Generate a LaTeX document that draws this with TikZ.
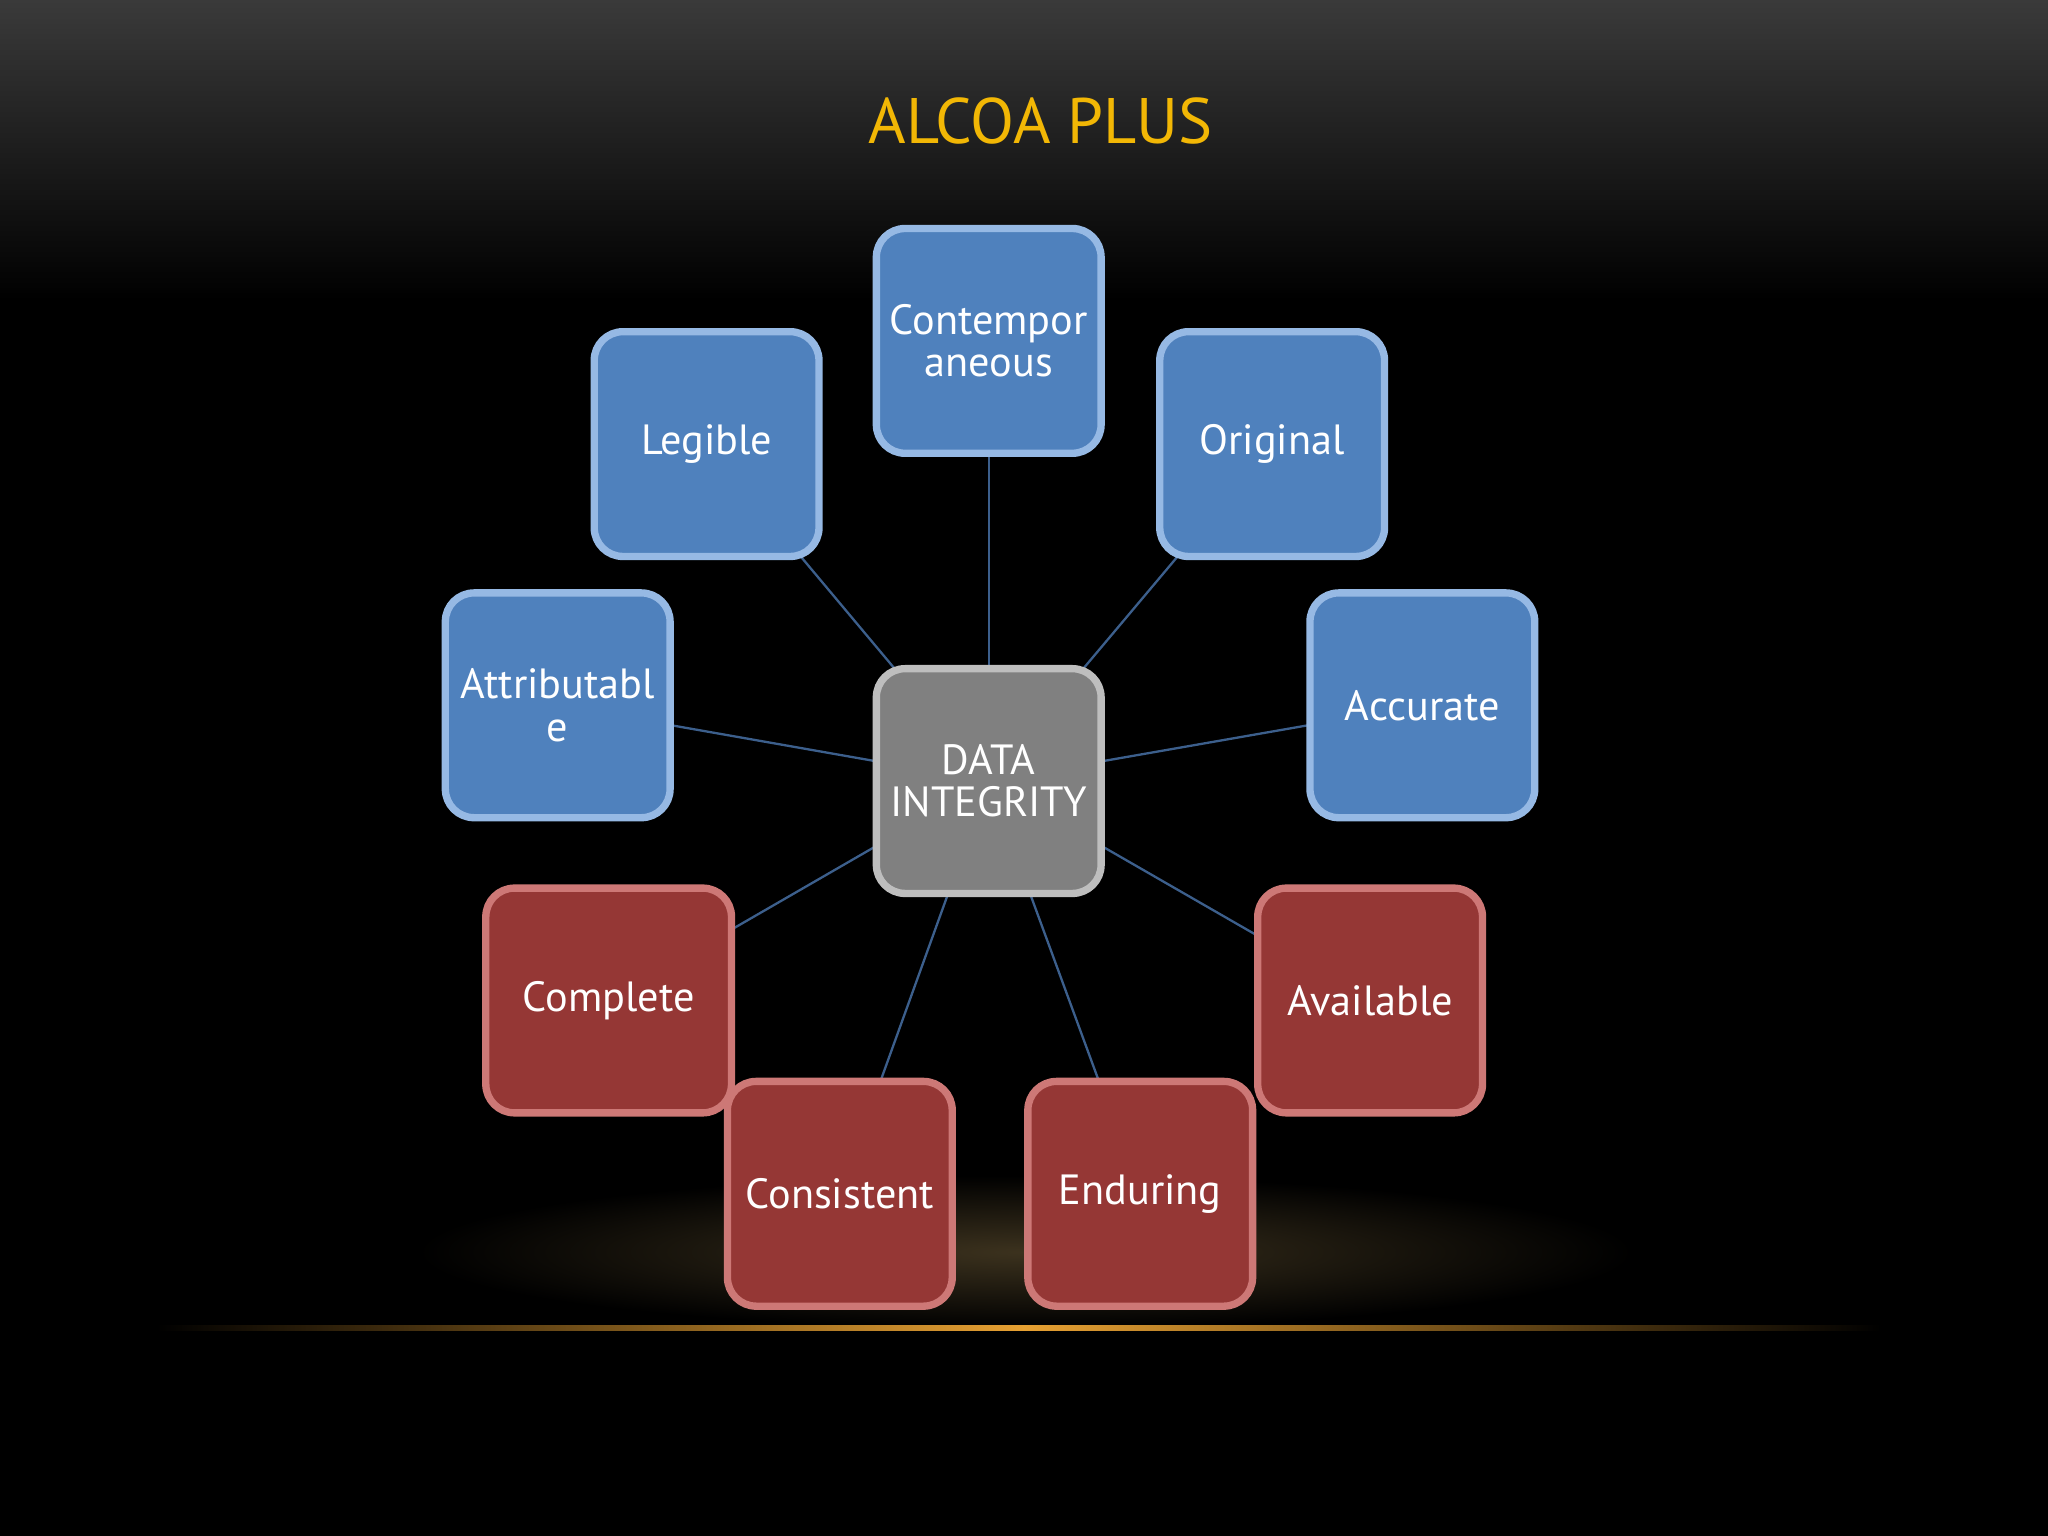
\documentclass[tikz,border=0pt]{standalone}
\usepackage{fontspec}
\setmainfont{PT Sans}
\begin{document}
\begin{tikzpicture}[x=0.01cm,y=-0.01cm,
  box/.style={rounded corners=0.22cm,minimum width=1.72cm,minimum height=1.72cm,line width=1.6pt,text=white,font=\fontsize{9.2}{9.2}\selectfont,align=center,inner sep=1pt},
  bluebox/.style={box,fill={rgb,255:red,79;green,129;blue,189},draw={rgb,255:red,150;green,185;blue,228}},
  redbox/.style={box,fill={rgb,255:red,149;green,55;blue,53},draw={rgb,255:red,205;green,120;blue,118}},
  graybox/.style={box,fill={rgb,255:red,128;green,128;blue,128},draw={rgb,255:red,190;green,190;blue,190}},
  link/.style={draw={rgb,255:red,60;green,95;blue,140},line width=0.5pt}]
\useasboundingbox (0,0) rectangle (1568,1176);
\shade[top color={rgb,255:red,58;green,58;blue,58},bottom color=black] (0,0) rectangle (1568,230);
\fill[black] (0,230) rectangle (1568,1176);
\shade[inner color={rgb,255:red,60;green,50;blue,30},outer color=black] (320,900) rectangle (1250,1017);
\fill[black] (0,1017) rectangle (1568,1176);
\shade[left color=black,right color={rgb,255:red,230;green,160;blue,50}] (120,1015) rectangle (784,1019);
\shade[right color=black,left color={rgb,255:red,230;green,160;blue,50}] (784,1015) rectangle (1440,1019);
\node[text={rgb,255:red,242;green,183;blue,5},font=\fontsize{14}{14}\selectfont] (title) at (797,93) {ALCOA PLUS};
\coordinate (c0) at (757,598);
\foreach \n/\x/\y in {cont/757/261,leg/541/340,orig/974/340,attr/427/540,acc/1089/540,comp/466/766,avail/1049/766,cons/643/914,end/873/914}
  \coordinate (p\n) at (\x,\y);
\foreach \n in {cont,leg,orig,attr,acc,comp,avail,cons,end}
  \draw[link] (c0) -- (p\n);
\node[bluebox] (cont) at (pcont) {Contempor\\aneous};
\node[bluebox] (leg) at (pleg) {Legible};
\node[bluebox] (orig) at (porig) {Original};
\node[bluebox] (attr) at (pattr) {Attributabl\\e};
\node[bluebox] (acc) at (pacc) {Accurate};
\node[redbox,minimum width=1.88cm] (comp) at (pcomp) {Complete};
\node[redbox] (avail) at (pavail) {Available};
\node[redbox] (cons) at (pcons) {Consistent};
\node[redbox] (end) at (pend) {Enduring};
\node[graybox] (di) at (c0) {DATA\\INTEGRITY};
\end{tikzpicture}
\end{document}
